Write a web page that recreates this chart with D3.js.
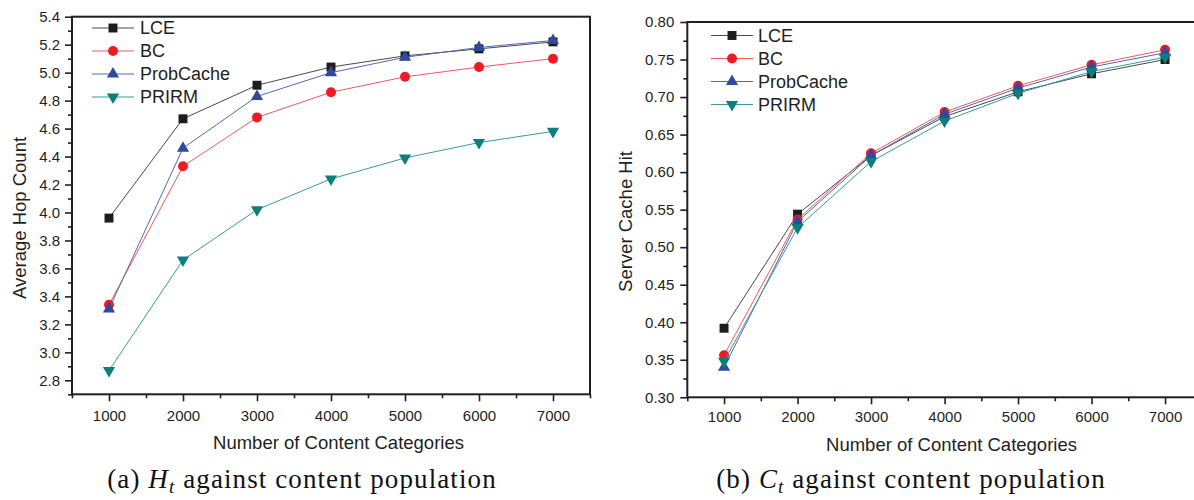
<!DOCTYPE html>
<html>
<head>
<meta charset="utf-8">
<script src="https://cdn.jsdelivr.net/npm/d3@7"></script>
<style>
  html, body { margin: 0; padding: 0; background: #ffffff; }
  svg { display: block; }
  .tick text { font-family: "Liberation Sans", Arial, sans-serif; fill: #231f20; }
  .tick line { stroke: #231f20; stroke-width: 1.6; }
</style>
</head>
<body>
<svg id="chart" width="1194" height="500"></svg>
<script>
// Content categories (x) shared by both panels
const categories = [1000, 2000, 3000, 4000, 5000, 6000, 7000];
const seriesNames = ["LCE", "BC", "ProbCache", "PRIRM"];

// Average hop count per scheme
const hopLCE       = [3.96, 4.67, 4.91, 5.04, 5.12, 5.17, 5.22];
const hopBC        = [3.34, 4.33, 4.68, 4.86, 4.97, 5.04, 5.10];
const hopProbCache = [3.31, 4.46, 4.83, 5.00, 5.11, 5.18, 5.23];
const hopPRIRM     = [2.87, 3.66, 4.02, 4.24, 4.39, 4.50, 4.58];

// Server cache hit per scheme
const hitLCE       = [0.392, 0.544, 0.622, 0.674, 0.707, 0.731, 0.750];
const hitBC        = [0.356, 0.537, 0.625, 0.680, 0.715, 0.743, 0.763];
const hitProbCache = [0.340, 0.534, 0.622, 0.677, 0.712, 0.740, 0.759];
const hitPRIRM     = [0.348, 0.526, 0.614, 0.668, 0.705, 0.734, 0.753];

// Axis ticks
const xTicks      = [1000, 2000, 3000, 4000, 5000, 6000, 7000];
const xMinorTicks = [500, 1500, 2500, 3500, 4500, 5500, 6500, 7500];
const hopTicks    = [2.8, 3.0, 3.2, 3.4, 3.6, 3.8, 4.0, 4.2, 4.4, 4.6, 4.8, 5.0, 5.2, 5.4];
const hopMinor    = [2.7, 2.9, 3.1, 3.3, 3.5, 3.7, 3.9, 4.1, 4.3, 4.5, 4.7, 4.9, 5.1, 5.3];
const hitTicks    = [0.30, 0.35, 0.40, 0.45, 0.50, 0.55, 0.60, 0.65, 0.70, 0.75, 0.80];
const hitMinor    = [0.325, 0.375, 0.425, 0.475, 0.525, 0.575, 0.625, 0.675, 0.725, 0.775];

// Marker / line styling for each scheme
const styles = {
  LCE:       { fill: "#1e1c1d", line: "#4a4a4a", symbol: d3.symbolSquare,   size: 80, rot: 0 },
  BC:        { fill: "#ec1c24", line: "#ef5a5f", symbol: d3.symbolCircle,   size: 78, rot: 0 },
  ProbCache: { fill: "#2d4a9d", line: "#5468b5", symbol: d3.symbolTriangle, size: 64, rot: 0 },
  PRIRM:     { fill: "#0b7f7b", line: "#3a9b97", symbol: d3.symbolTriangle, size: 64, rot: 180 }
};

const panels = [
  {
    series: [hopLCE, hopBC, hopProbCache, hopPRIRM],
    xRange: [72, 590], yRange: [394.3, 16.7], yDomain: [2.7, 5.4],
    yTicks: hopTicks, yMinor: hopMinor, yFmt: d3.format(".1f"),
    yTitle: "Average Hop Count", yTitlePos: [26, 218],
    xTitlePos: [338.5, 449], xLabelPad: 9, yLabelPad: 5,
    legend: { x0: 92, x1: 134, mx: 113, tx: 140, y0: 28, dy: 23 },
    caption: { x: 302, y: 488, label: "(a) ", sym: "H", sub: "t" }
  },
  {
    series: [hitLCE, hitBC, hitProbCache, hitPRIRM],
    xRange: [687.3, 1201.8], yRange: [397.3, 22], yDomain: [0.30, 0.80],
    yTicks: hitTicks, yMinor: hitMinor, yFmt: d3.format(".2f"),
    yTitle: "Server Cache Hit", yTitlePos: [631.5, 221.5],
    xTitlePos: [951.5, 451], xLabelPad: 7.5, yLabelPad: 6,
    legend: { x0: 711, x1: 753, mx: 732, tx: 758, y0: 35.5, dy: 23 },
    caption: { x: 911, y: 488, label: "(b) ", sym: "C", sub: "t" }
  }
];

const svg = d3.select("#chart");
const sans = "'Liberation Sans', Arial, sans-serif";
const ink = "#231f20";

panels.forEach(p => {
  const x = d3.scaleLinear().domain([500, 7500]).range(p.xRange);
  const y = d3.scaleLinear().domain(p.yDomain).range(p.yRange);
  const g = svg.append("g");

  const bottom = p.yRange[0], top = p.yRange[1];

  // minor ticks
  g.append("g").attr("transform", `translate(0,${bottom})`)
    .call(d3.axisBottom(x).tickValues(xMinorTicks).tickSize(4).tickFormat(""))
    .call(a => a.select(".domain").remove());
  g.append("g").attr("transform", `translate(${p.xRange[0]},0)`)
    .call(d3.axisLeft(y).tickValues(p.yMinor).tickSize(4).tickFormat(""))
    .call(a => a.select(".domain").remove());

  // major ticks with labels
  g.append("g").attr("transform", `translate(0,${bottom})`)
    .call(d3.axisBottom(x).tickValues(xTicks).tickSize(7).tickPadding(p.xLabelPad).tickFormat(d3.format("d")))
    .call(a => a.select(".domain").remove())
    .call(a => a.selectAll("text").attr("font-size", 15));
  g.append("g").attr("transform", `translate(${p.xRange[0]},0)`)
    .call(d3.axisLeft(y).tickValues(p.yTicks).tickSize(7).tickPadding(p.yLabelPad).tickFormat(p.yFmt))
    .call(a => a.select(".domain").remove())
    .call(a => a.selectAll("text").attr("font-size", 15));

  // plot frame
  g.append("rect")
    .attr("x", p.xRange[0]).attr("y", top)
    .attr("width", p.xRange[1] - p.xRange[0]).attr("height", bottom - top)
    .attr("fill", "none").attr("stroke", ink).attr("stroke-width", 2);

  // axis titles
  g.append("text")
    .attr("x", p.xTitlePos[0]).attr("y", p.xTitlePos[1])
    .attr("text-anchor", "middle").attr("font-family", sans).attr("font-size", 18.5)
    .attr("fill", ink).text("Number of Content Categories");
  g.append("text")
    .attr("transform", `translate(${p.yTitlePos[0]},${p.yTitlePos[1]}) rotate(-90)`)
    .attr("text-anchor", "middle").attr("font-family", sans).attr("font-size", 18.5)
    .attr("fill", ink).text(p.yTitle);

  // series lines and markers
  const line = d3.line().x((d, i) => x(categories[i])).y(d => y(d));
  p.series.forEach((vals, si) => {
    const st = styles[seriesNames[si]];
    g.append("path").datum(vals)
      .attr("d", line).attr("fill", "none")
      .attr("stroke", st.line).attr("stroke-width", 1);
    g.selectAll(null).data(vals).enter().append("path")
      .attr("d", d3.symbol().type(st.symbol).size(st.size))
      .attr("transform", (d, i) => `translate(${x(categories[i])},${y(d)}) rotate(${st.rot})`)
      .attr("fill", st.fill);
  });

  // legend
  const L = p.legend;
  seriesNames.forEach((name, si) => {
    const st = styles[name];
    const ly = L.y0 + si * L.dy;
    g.append("line").attr("x1", L.x0).attr("x2", L.x1).attr("y1", ly).attr("y2", ly)
      .attr("stroke", st.line).attr("stroke-width", 1);
    g.append("path")
      .attr("d", d3.symbol().type(st.symbol).size(st.size))
      .attr("transform", `translate(${L.mx},${ly}) rotate(${st.rot})`)
      .attr("fill", st.fill);
    g.append("text").attr("x", L.tx).attr("y", ly).attr("dy", "0.35em")
      .attr("font-family", sans).attr("font-size", 18).attr("fill", ink).text(name);
  });

  // caption
  const C = p.caption;
  const cap = g.append("text")
    .attr("x", C.x).attr("y", C.y).attr("text-anchor", "middle")
    .attr("font-family", "'Liberation Serif', 'DejaVu Serif', serif")
    .attr("font-size", 27).attr("letter-spacing", 1.1).attr("fill", "#111");
  cap.append("tspan").text(C.label);
  cap.append("tspan").attr("font-style", "italic").text(C.sym);
  cap.append("tspan").attr("font-style", "italic").attr("font-size", 19).attr("dy", 5).text(C.sub);
  cap.append("tspan").attr("dy", -5).text(" against content population");
});
</script>
</body>
</html>
